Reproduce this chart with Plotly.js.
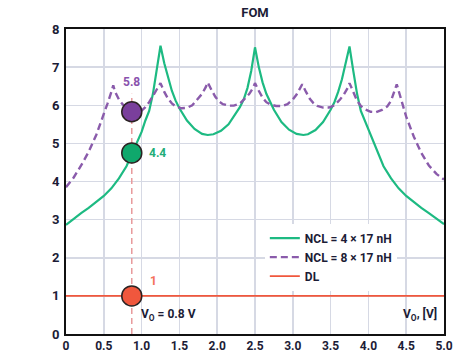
<!DOCTYPE html>
<html>
<head>
<meta charset="utf-8">
<script src="https://cdn.plot.ly/plotly-3.0.1.min.js"></script>
<style>html,body{margin:0;padding:0;background:#fff;}#chart{width:474px;height:352px;}</style>
</head>
<body>
<div id="chart"></div>
<script>
// ---- data ----
const greenX = [0,0.1,0.2,0.3,0.4,0.5,0.6,0.7,0.8,0.9,1.0,1.05,1.1,1.15,1.2,1.25,
  1.3,1.35,1.4,1.45,1.5,1.6,1.7,1.8,1.875,1.95,2.05,2.15,2.25,2.3,2.35,2.4,2.45,2.5,
  2.55,2.6,2.65,2.7,2.75,2.85,2.95,3.05,3.14,3.2,3.3,3.4,3.5,3.55,3.6,3.65,3.7,3.75,
  3.8,3.85,3.9,3.95,4.0,4.1,4.2,4.3,4.4,4.5,4.6,4.7,4.8,4.9,5.0];
const greenY = [2.86,3.02,3.17,3.31,3.46,3.62,3.82,4.08,4.4,4.85,5.3,5.6,5.85,6.3,6.9,7.56,
  7.1,6.7,6.38,6.12,5.92,5.6,5.38,5.25,5.22,5.24,5.33,5.5,5.78,5.95,6.15,6.45,6.9,7.52,
  7.0,6.6,6.3,6.08,5.88,5.56,5.36,5.25,5.22,5.24,5.35,5.56,5.88,6.08,6.35,6.68,7.08,7.54,
  6.9,6.3,5.85,5.6,5.38,4.85,4.4,4.08,3.82,3.62,3.46,3.31,3.17,3.02,2.88];

const purpleX = [0,0.1,0.2,0.3,0.4,0.5,0.55,0.6,0.625,0.65,0.7,0.75,0.8,0.87,0.94,1.0,1.05,1.1,1.15,1.2,1.25,
  1.3,1.35,1.4,1.45,1.53,1.6,1.67,1.75,1.8,1.85,1.875,
  1.925,1.975,2.025,2.075,2.15,2.22,2.3,2.375,2.425,2.475,2.5,
  2.55,2.6,2.65,2.7,2.78,2.86,2.93,3.0,3.05,3.1,3.125,
  3.175,3.225,3.275,3.325,3.4,3.48,3.55,3.625,3.675,3.725,3.75,
  3.8,3.85,3.9,3.95,4.03,4.1,4.18,4.25,4.3,4.35,4.375,
  4.4,4.45,4.5,4.6,4.7,4.8,4.9,5.0];
const purpleY = [3.85,4.1,4.42,4.78,5.22,5.75,6.05,6.35,6.52,6.35,6.15,6.02,5.93,5.85,5.83,5.86,5.95,6.08,6.25,6.42,6.58,
  6.35,6.17,6.05,5.97,5.92,5.93,6.0,6.17,6.3,6.48,6.6,
  6.4,6.22,6.1,6.03,5.99,5.99,6.04,6.18,6.3,6.46,6.58,
  6.38,6.2,6.08,6.02,5.98,5.98,6.03,6.15,6.28,6.45,6.55,
  6.35,6.17,6.05,5.98,5.94,5.94,6.0,6.15,6.28,6.45,6.58,
  6.33,6.12,5.98,5.9,5.83,5.82,5.88,5.97,6.12,6.38,6.55,
  6.38,6.05,5.7,5.18,4.75,4.42,4.2,4.05];

const dlX = [0,5];
const dlY = [1,1];

const opX = 0.87;          // operating point V_O
const opGreen = 4.75;
const opPurple = 5.83;
const opDL = 1.0;
const guideY = [0, 6.3];

const xTickVals = [0,0.5,1,1.5,2,2.5,3,3.5,4,4.5,5];
const xTickText = ["0","0.5","1.0","1.5","2.0","2.5","3.0","3.5","4.0","4.5","5.0"];
const yTickVals = [0,1,2,3,4,5,6,7,8];
const yTickText = ["0","1","2","3","4","5","6","7","8"];

const labelGreen = "NCL = 4 × 17 nH";
const labelPurple = "NCL = 8 × 17 nH";
const labelDL = "DL";
const titleText = "FOM";

// ---- styles ----
const FONT = "Roboto, 'DejaVu Sans Condensed', sans-serif";
const INK = "#1c1c36";
const GREEN = "#1dba82";
const PURPLE = "#8a5bab";
const RED = "#f0573d";
const FS = 12;

const traces = [
  {x:[opX,opX], y:guideY, mode:'lines', line:{color:'#e89a9c', width:1.5, dash:'6px,4px'}, showlegend:false, hoverinfo:'skip'},
  {x:dlX, y:dlY, mode:'lines', name:labelDL, line:{color:RED, width:1.8}, legendrank:3},
  {x:greenX, y:greenY, mode:'lines', name:labelGreen, line:{color:GREEN, width:2.2}, legendrank:1},
  {x:purpleX, y:purpleY, mode:'lines', name:labelPurple, line:{color:PURPLE, width:2.4, dash:'7px,4px'}, legendrank:2},
  {x:[opX,opX,opX], y:[opDL,opGreen,opPurple], mode:'markers', showlegend:false,
   marker:{size:20, color:[RED,'#0fa86c','#7a3f9c'], line:{color:'#2a2222', width:1.5}}}
];

const layout = {
  width:474, height:352,
  margin:{l:66, r:30, t:29, b:18},
  paper_bgcolor:'#fff', plot_bgcolor:'#fff',
  font:{family:FONT, color:INK, size:FS, weight:700},
  title:{text:titleText, font:{family:FONT, size:13, color:INK, weight:700}, xref:'paper', x:0.5, xanchor:'center', yref:'container', y:0.965, yanchor:'middle'},
  xaxis:{range:[0,5], tickvals:xTickVals, ticktext:xTickText, showgrid:true, gridcolor:'#d6d9e4', gridwidth:1.5,
    showline:true, linecolor:'#111', linewidth:2, mirror:true, zeroline:false, ticks:'',
    tickfont:{family:FONT, size:FS, color:INK, weight:700}, fixedrange:true},
  yaxis:{range:[0,8], tickvals:yTickVals, ticktext:yTickText, showgrid:true, gridcolor:'#d6d9e4', gridwidth:1.5,
    showline:true, linecolor:'#111', linewidth:2, mirror:true, zeroline:false, ticks:'outside', ticklen:2, tickcolor:'rgba(0,0,0,0)',
    tickfont:{family:FONT, size:13, color:INK, weight:700}, fixedrange:true},
  legend:{x:0.526, xanchor:'left', y:0.362, yanchor:'top', bgcolor:'#fff', borderwidth:0,
    font:{family:FONT, size:FS, color:INK, weight:700}, tracegroupgap:0, traceorder:'normal'},
  showlegend:true,
  annotations:[
    {x:opX, y:opPurple, xref:'x', yref:'y', text:'5.8', showarrow:false, yshift:30, font:{family:FONT, size:FS, color:'#8a52ad', weight:700}},
    {x:opX, y:opGreen, xref:'x', yref:'y', text:'4.4', showarrow:false, xanchor:'left', xshift:15, font:{family:FONT, size:FS, color:'#22ad78', weight:700}},
    {x:opX, y:opDL, xref:'x', yref:'y', text:'1', showarrow:false, xanchor:'left', xshift:16, yshift:15, font:{family:FONT, size:FS, color:'#f4715a', weight:700}},
    {x:opX, y:0, xref:'x', yref:'y', text:'V<sub>O</sub> = 0.8 V', showarrow:false, xanchor:'left', yanchor:'bottom', xshift:7, yshift:9, font:{family:FONT, size:FS, color:INK, weight:700}},
    {x:5, y:0, xref:'x', yref:'y', text:'V<sub>O</sub>, [V]', showarrow:false, xanchor:'right', yanchor:'bottom', xshift:-5, yshift:9, font:{family:FONT, size:FS, color:INK, weight:700}}
  ]
};

Plotly.newPlot('chart', traces, layout, {staticPlot:true, displayModeBar:false});
</script>
</body>
</html>
